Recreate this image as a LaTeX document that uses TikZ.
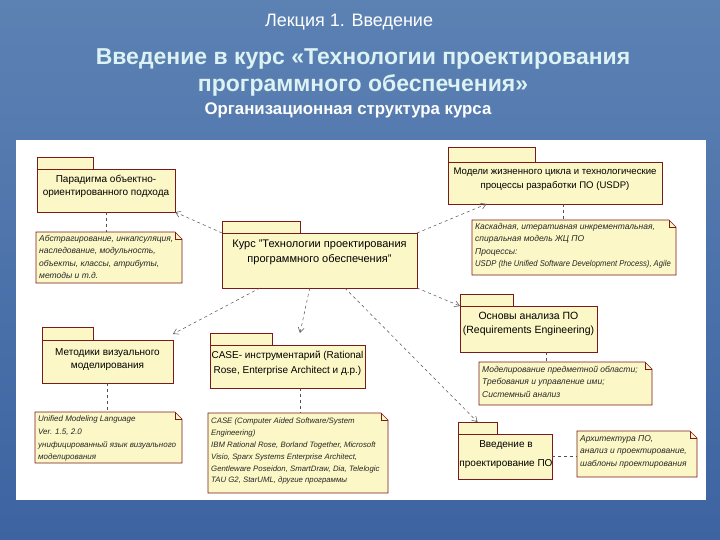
\documentclass[tikz,border=0pt]{standalone}
\usepackage{fontspec}
\setmainfont{Liberation Sans}
\usetikzlibrary{arrows.meta,calc}
\definecolor{bgtop}{HTML}{5C82B4}
\definecolor{bgbot}{HTML}{3D63A1}
\definecolor{boxfill}{HTML}{FBF7C6}
\definecolor{edge}{HTML}{7A1A1A}
\definecolor{conn}{HTML}{505050}
\definecolor{titlecol}{HTML}{DDF2F2}
\newcommand{\notedraw}[1]{%
  \filldraw[noteedge] (#1.north west) -- ($(#1.north east)+(-7,0)$) -- ($(#1.north east)+(0,7)$) -- (#1.south east) -- (#1.south west) -- cycle;
  \draw[noteedge, fill=none] ($(#1.north east)+(-7,0)$) -- ($(#1.north east)+(-7,7)$) -- ($(#1.north east)+(0,7)$);}
\begin{document}
\begin{tikzpicture}[x=1pt,y=-1pt,
  pkg/.style={fill=boxfill, draw=edge, line width=0.6pt, inner sep=0pt, outer sep=0pt},
  notebox/.style={inner sep=0pt, outer sep=0pt},
  noteedge/.style={fill=boxfill, draw=edge, line width=0.6pt},
  pkgtext/.style={font=\fontsize{10}{12.5}\selectfont, align=center, text=black, inner sep=0pt},
  notetext/.style={font=\itshape\fontsize{8.5}{12.5}\selectfont, align=left, anchor=north west, inner sep=0pt, text=black!85},
  dep/.style={draw=conn, dashed, line width=0.5pt, -{Straight Barb[length=5pt,width=6pt]}},
  link/.style={draw=conn, dashed, line width=0.5pt}]
\useasboundingbox (0,0) rectangle (720,540);
\shade[top color=bgtop, bottom color=bgbot] (0,0) rectangle (720,540);
\fill[white] (16,140) rectangle (706,500);

% titles
\node[font=\fontsize{18}{21}\selectfont, text=white] (lect) at (349,22) {Лекция 1. Введение};
\node[font=\bfseries\fontsize{23}{27}\selectfont, text=titlecol, align=center] (title) at (363,72) {Введение в курс «Технологии проектирования\\программного обеспечения»};
\node[font=\bfseries\fontsize{16.8}{19}\selectfont, text=white] (sub) at (348,110) {Организационная структура курса};

% packages
\node[pkg, minimum width=56, minimum height=12, anchor=south west] (partab) at (37,169) {};
\node[pkg, minimum width=138, minimum height=43, anchor=north west] (par) at (37,169) {};
\node[pkgtext] at ($(par.center)+(0,-4)$) {Парадигма объектно-\\ориентированного подхода};

\node[pkg, minimum width=78, minimum height=12, anchor=south west] (kurstab) at (222,233) {};
\node[pkg, minimum width=195, minimum height=55, anchor=north west] (kurs) at (222,233) {};
\node[pkgtext, font=\fontsize{11}{14.5}\selectfont] at ($(kurs.center)+(0,-8)$) {Курс "Технологии проектирования\\программного обеспечения"};

\node[pkg, minimum width=87, minimum height=15, anchor=south west] (lctab) at (448,162) {};
\node[pkg, minimum width=214, minimum height=42, anchor=north west] (lc) at (448,162) {};
\node[pkgtext, font=\fontsize{9.6}{13.5}\selectfont] at ($(lc.center)+(0,-4)$) {Модели жизненного цикла и технологические\\процессы разработки ПО (USDP)};

\node[pkg, minimum width=53, minimum height=12, anchor=south west] (reqtab) at (460,306) {};
\node[pkg, minimum width=137, minimum height=46, anchor=north west] (req) at (460,306) {};
\node[pkgtext, font=\fontsize{10.5}{14}\selectfont] at ($(req.center)+(0,-5)$) {Основы анализа ПО\\(Requirements Engineering)};

\node[pkg, minimum width=39, minimum height=12, anchor=south west] (introtab) at (458,434) {};
\node[pkg, minimum width=94, minimum height=45, anchor=north west] (intro) at (458,434) {};
\node[pkgtext, font=\fontsize{10}{19}\selectfont] at ($(intro.center)+(1,-2)$) {Введение в\\проектирование ПО};

\node[pkg, minimum width=51, minimum height=13, anchor=south west] (vistab) at (42,340) {};
\node[pkg, minimum width=131, minimum height=43, anchor=north west] (vis) at (42,340) {};
\node[pkgtext] at ($(vis.center)+(0,-2)$) {Методики визуального\\моделирования};

\node[pkg, minimum width=62, minimum height=12, anchor=south west] (casetab) at (210,345) {};
\node[pkg, minimum width=155, minimum height=43, anchor=north west] (case) at (210,345) {};
\node[pkgtext, font=\fontsize{10}{15}\selectfont] at ($(case.center)+(0,-3)$) {CASE- инструментарий (Rational\\Rose, Enterprise Architect и д.р.)};

% notes
\node[notebox, minimum width=146, minimum height=51, anchor=north west] (n1) at (36,232) {};
\notedraw{n1}
\node[notetext] at ($(n1.north west)+(3,3)$) {Абстрагирование, инкапсуляция,\\наследование, модульность,\\объекты, классы, атрибуты,\\методы и т.д.};

\node[notebox, minimum width=204, minimum height=55, anchor=north west] (n2) at (472,220) {};
\notedraw{n2}
\node[notetext] at ($(n2.north west)+(3,3)$) {Каскадная, итеративная инкрементальная,\\спиральная модель ЖЦ ПО\\Процессы:\\\scalebox{0.9}[1]{USDP (the Unified Software Development Process), Agile}};

\node[notebox, minimum width=173, minimum height=43, anchor=north west] (n3) at (479,362) {};
\notedraw{n3}
\node[notetext] at ($(n3.north west)+(3,4)$) {Моделирование предметной области;\\Требования и управление ими;\\Системный анализ};

\node[notebox, minimum width=120, minimum height=46, anchor=north west] (n4) at (577,431) {};
\notedraw{n4}
\node[notetext] at ($(n4.north west)+(3,4)$) {Архитектура ПО,\\анализ и проектирование,\\шаблоны проектирования};

\node[notebox, minimum width=147, minimum height=51, anchor=north west] (n5) at (35,412) {};
\notedraw{n5}
\node[notetext, font=\itshape\fontsize{8}{12.5}\selectfont] at ($(n5.north west)+(3,4)$) {Unified Modeling Language\\Ver. 1.5, 2.0\\унифицированный язык визуального\\моделирования};

\node[notebox, minimum width=180, minimum height=80, anchor=north west] (n6) at (208,413) {};
\notedraw{n6}
\node[notetext, font=\itshape\fontsize{7.8}{11.8}\selectfont] at ($(n6.north west)+(3,5)$) {CASE (Computer Aided Software/System\\Engineering)\\IBM Rational Rose, Borland Together, Microsoft\\Visio, Sparx Systems Enterprise Architect,\\Gentleware Poseidon, SmartDraw, Dia, Telelogic\\TAU G2, StarUML, другие программы};

% dependencies from the course package
\draw[dep] (kurs.north west) -- (par.south east);
\draw[dep] (kurs.north east) -- ($(lc.south west)!0.18!(lc.south east)$);
\draw[dep] (kurs.south east) -- (req.north west);
\draw[dep] ($(kurs.south west)!0.63!(kurs.south east)$) -- (introtab.north);
\draw[dep] ($(kurs.south west)!0.45!(kurs.south east)$) -- ($(case.north)+(12.5,-12)$);
\draw[dep] ($(kurs.south west)!0.195!(kurs.south east)$) -- ($(vis.north east)+(0,-6)$);

% note links
\draw[link] (par.south) -- (par.south |- n1.north);
\coordinate (lcp) at ($(lc.south)+(8,0)$);
\draw[link] (lcp) -- (lcp |- n2.north);
\coordinate (reqp) at ($(req.south)+(18,0)$);
\draw[link] (reqp) -- (reqp |- n3.north);
\draw[link] (vis.south) -- (vis.south |- n5.north);
\coordinate (casep) at ($(case.south)+(12.5,0)$);
\draw[link] (casep) -- (casep |- n6.north);
\draw[link] (intro.east) -- (intro.east -| n4.west);
\end{tikzpicture}
\end{document}
